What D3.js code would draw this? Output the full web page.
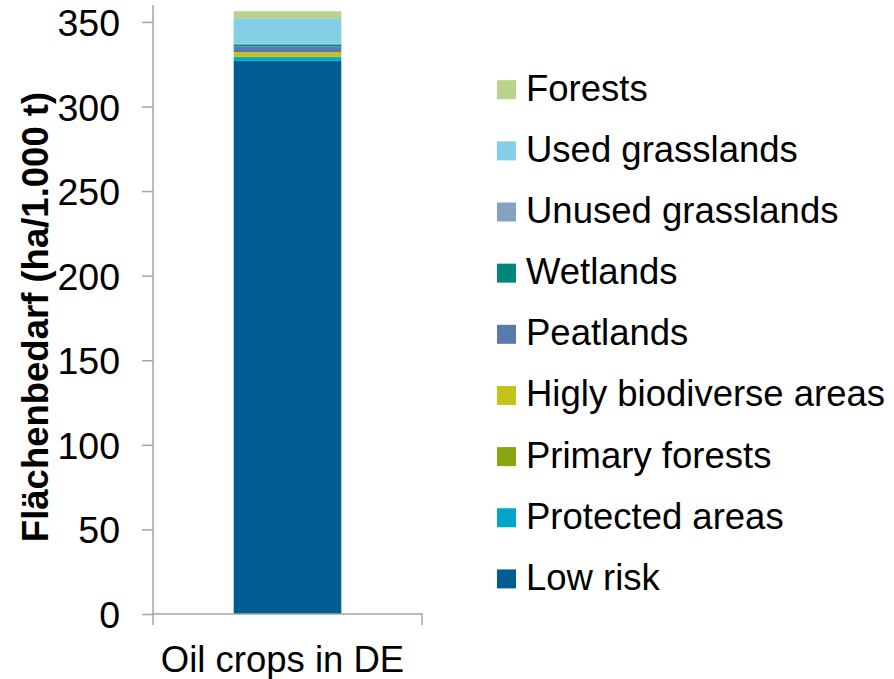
<!DOCTYPE html>
<html><head><meta charset="utf-8">
<script src="https://cdn.jsdelivr.net/npm/d3@7"></script>
<style>
html,body{margin:0;padding:0;background:#fff;}
text{font-family:"Liberation Sans",Arial,sans-serif;fill:#000;}
</style></head>
<body><svg id="c" width="894" height="679"></svg>
<script>
const categories = ["Oil crops in DE"];
const seriesNames = ["Low risk","Protected areas","Primary forests","Higly biodiverse areas","Peatlands","Wetlands","Unused grasslands","Used grasslands","Forests"];
const seriesValues = [327.0, 2.2, 0.1, 2.8, 3.4, 1.2, 0.3, 15.2, 4.1];
const seriesColors = ["#005d92","#00a7c8","#86a612","#c5c31a","#5a79ad","#00877a","#86a2c3","#84cfe6","#b7d48a"];
const yTicks = [0,50,100,150,200,250,300,350];
const yTitle = "Flächenbedarf (ha/1.000 t)";

const svg = d3.select("#c");
const y = d3.scaleLinear().domain([0,360]).range([614,5]);
const x = d3.scaleBand().domain(categories).range([153,422]).paddingInner(0.6).paddingOuter(0.3);

const row = {cat: categories[0]};
seriesNames.forEach((n,i)=>row[n]=seriesValues[i]);
const stack = d3.stack().keys(seriesNames)([row]);

svg.append("g").selectAll("rect").data(stack).join("rect")
  .attr("x", x(categories[0]))
  .attr("width", x.bandwidth())
  .attr("y", d=>y(d[0][1]))
  .attr("height", d=>y(d[0][0])-y(d[0][1]))
  .attr("fill",(d,i)=>seriesColors[i]);

const axisColor = "#a6a6a6";
// y axis
const ya = svg.append("g").attr("transform","translate(153,0)")
  .call(d3.axisLeft(y).tickValues(yTicks).tickSize(11).tickPadding(22));
ya.select(".domain").attr("stroke",axisColor).attr("stroke-width",1.5).attr("d","M0,5V625");
ya.selectAll(".tick line").attr("stroke",axisColor).attr("stroke-width",1.5);
ya.selectAll(".tick text").attr("font-size",37.5).attr("dy","0.36em")
  .style("font-family",'"Liberation Sans",Arial,sans-serif');

// x axis
const xa = svg.append("g").attr("transform","translate(0,614)");
xa.append("path").attr("d","M153,0H422V11").attr("fill","none").attr("stroke",axisColor).attr("stroke-width",1.5);
xa.selectAll("text.cat").data(categories).join("text").attr("class","cat")
  .attr("x",d=>x(d)+x.bandwidth()/2-5).attr("y",58)
  .attr("text-anchor","middle").attr("font-size",36.5).text(d=>d);

// y title
svg.append("text").attr("transform","translate(48,317) rotate(-90)")
  .attr("text-anchor","middle").attr("font-size",36.5).attr("font-weight","bold").text(yTitle);

// legend (reverse order)
const legendItems = seriesNames.map((n,i)=>({n,c:seriesColors[i]})).reverse();
const lg = svg.append("g").selectAll("g").data(legendItems).join("g")
  .attr("transform",(d,i)=>`translate(497,${89.7+i*61.15})`);
lg.append("rect").attr("x",0).attr("y",-9.5).attr("width",19).attr("height",19).attr("fill",d=>d.c);
lg.append("text").attr("x",29).attr("y",11).attr("font-size",36.5).text(d=>d.n);
</script></body></html>
